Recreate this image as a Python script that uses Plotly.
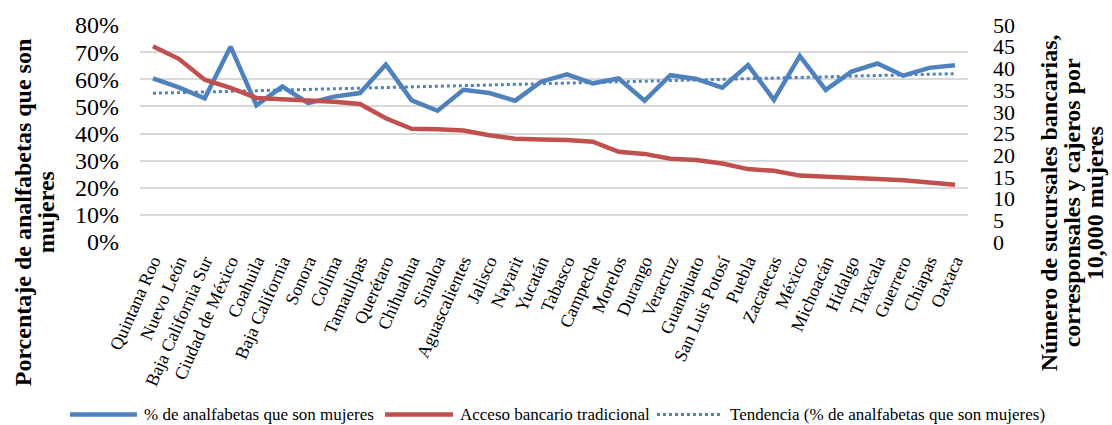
import numpy as np
import plotly.graph_objects as go

# Entidades federativas, ordenadas por acceso bancario tradicional
estados = [
    "Quintana Roo", "Nuevo León", "Baja California Sur", "Ciudad de México",
    "Coahuila", "Baja California", "Sonora", "Colima", "Tamaulipas",
    "Querétaro", "Chihuahua", "Sinaloa", "Aguascalientes", "Jalisco",
    "Nayarit", "Yucatán", "Tabasco", "Campeche", "Morelos", "Durango",
    "Veracruz", "Guanajuato", "San Luis Potosí", "Puebla", "Zacatecas",
    "México", "Michoacán", "Hidalgo", "Tlaxcala", "Guerrero", "Chiapas",
    "Oaxaca",
]

# Porcentaje de analfabetas que son mujeres (eje izquierdo)
pct_mujeres = [
    0.603, 0.570, 0.530, 0.720, 0.504, 0.573, 0.512, 0.536, 0.549,
    0.654, 0.522, 0.484, 0.561, 0.549, 0.521, 0.591, 0.618, 0.585,
    0.603, 0.521, 0.615, 0.601, 0.569, 0.652, 0.524, 0.686, 0.561,
    0.628, 0.658, 0.613, 0.642, 0.652,
]

# Sucursales bancarias, corresponsales y cajeros por 10,000 mujeres (eje derecho)
acceso_bancario = [
    45.1, 42.2, 37.4, 35.5, 33.2, 33.0, 32.6, 32.3, 31.8,
    28.5, 26.1, 26.0, 25.7, 24.6, 23.8, 23.6, 23.5, 23.1,
    20.8, 20.3, 19.2, 18.9, 18.1, 16.8, 16.4, 15.3, 15.1,
    14.7, 14.5, 14.2, 13.7, 13.2,
]

nombres = [
    "% de analfabetas que son mujeres",
    "Acceso bancario tradicional",
    "Tendencia (% de analfabetas que son mujeres)",
]

# Tendencia lineal (mínimos cuadrados) del porcentaje de mujeres
idx = np.arange(len(pct_mujeres))
pendiente, ordenada = np.polyfit(idx, pct_mujeres, 1)
tendencia = pendiente * idx + ordenada

AZUL = "#4F81BD"
ROJO = "#C0504D"
SERIF = "Liberation Serif, Times New Roman, serif"

W, H = 1112, 425
ML, MR, MT, MB = 140, 144, 23, 183
PW, PH = W - ML - MR, H - MT - MB


def px_x(px):
    return (px - ML) / PW


def px_y(py):
    return (H - MB - py) / PH


fig = go.Figure()
fig.add_trace(go.Scatter(
    x=estados, y=pct_mujeres, mode="lines", name=nombres[0],
    line=dict(color=AZUL, width=4.5), yaxis="y",
))
fig.add_trace(go.Scatter(
    x=estados, y=acceso_bancario, mode="lines", name=nombres[1],
    line=dict(color=ROJO, width=4.5), yaxis="y2",
))
fig.add_trace(go.Scatter(
    x=estados, y=tendencia, mode="lines", name=nombres[2],
    line=dict(color=AZUL, width=3, dash="dot"), yaxis="y",
))

# Leyenda inferior dibujada a mano (muestras largas como en Excel)
leyenda = [
    (70, 137, AZUL, "solid", 4.5, 142, nombres[0]),
    (385, 453, ROJO, "solid", 4.5, 458, nombres[1]),
    (657, 723, AZUL, "dot", 3, 728, nombres[2]),
]
shapes = []
annotations = []
ly = 416
for x0, x1, color, dash, w, tx, texto in leyenda:
    shapes.append(dict(
        type="line", xref="paper", yref="paper",
        x0=px_x(x0), x1=px_x(x1), y0=px_y(ly), y1=px_y(ly),
        line=dict(color=color, width=w, dash=dash),
    ))
    annotations.append(dict(
        xref="paper", yref="paper", x=px_x(tx), y=px_y(ly),
        xanchor="left", yanchor="middle", showarrow=False, text=texto,
        font=dict(family=SERIF, size=17, color="#000000"),
    ))

# Títulos de los ejes (en negrita, una anotación por renglón)
titulo_izq = ["Porcentaje de analfabetas que son", "mujeres"]
for texto, cx in zip(titulo_izq, [23, 46]):
    annotations.append(dict(
        xref="paper", yref="paper", x=px_x(cx), y=px_y(212),
        xanchor="center", yanchor="middle", showarrow=False,
        text="<b>" + texto + "</b>", textangle=-90,
        font=dict(family=SERIF, size=24, color="#000000"),
    ))

titulo_der = ["Número de sucursales bancarias,",
              "corresponsales y cajeros por", "10,000 mujeres"]
for texto, cx in zip(titulo_der, [1049, 1072, 1095]):
    annotations.append(dict(
        xref="paper", yref="paper", x=px_x(cx), y=px_y(203),
        xanchor="center", yanchor="middle", showarrow=False,
        text="<b>" + texto + "</b>", textangle=-90,
        font=dict(family=SERIF, size=24, color="#000000"),
    ))

fig.update_layout(
    width=W, height=H,
    margin=dict(l=ML, r=MR, t=MT, b=MB, pad=0),
    paper_bgcolor="white", plot_bgcolor="white",
    showlegend=False,
    font=dict(family=SERIF, color="#000000"),
    xaxis=dict(
        type="category", range=[-0.5, len(estados) - 0.5],
        tickangle=-66, tickfont=dict(family=SERIF, size=18, color="#000000"),
        showgrid=False, showline=False, ticks="", zeroline=False,
        ticklabelstandoff=4,
    ),
    yaxis=dict(
        range=[0, 0.8], dtick=0.1, tickformat=".0%",
        tickfont=dict(family=SERIF, size=24, color="#000000"),
        showgrid=True, gridcolor="#D9D9D9", gridwidth=1.5,
        zeroline=False, showline=False, ticks="", ticklabelstandoff=20,
    ),
    yaxis2=dict(
        range=[0, 50], dtick=5, overlaying="y", side="right",
        tickfont=dict(family=SERIF, size=22, color="#000000"),
        showgrid=False, zeroline=False, showline=False, ticks="",
        ticklabelstandoff=24,
    ),
    shapes=shapes,
    annotations=annotations,
)

fig.write_html("out.html")
